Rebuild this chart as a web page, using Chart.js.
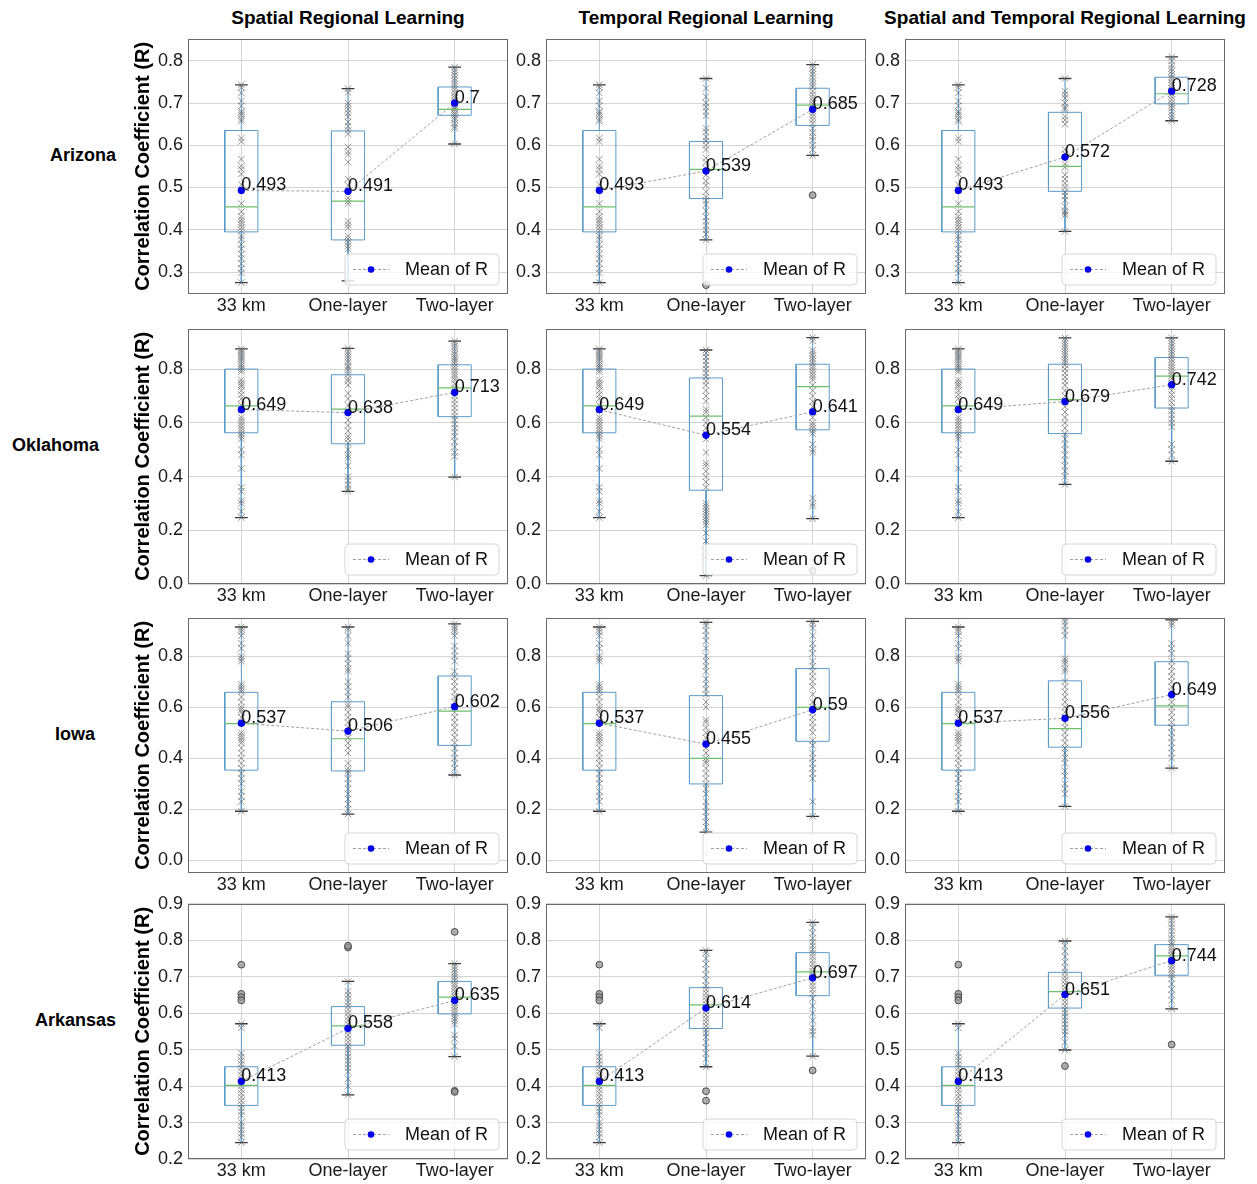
<!DOCTYPE html>
<html><head><meta charset="utf-8">
<script src="https://cdn.jsdelivr.net/npm/chart.js@4.4.1/dist/chart.umd.min.js"></script>
<style>
body{margin:0;background:#fff;width:1257px;height:1184px;position:relative;overflow:hidden;font-family:"Liberation Sans",Arial,sans-serif}
canvas{position:absolute}
.t{position:absolute;font-weight:bold;font-size:19px;color:#000;white-space:nowrap;line-height:22px}
.ct{transform:translateX(-50%)}
.rl{font-size:18px}
</style></head><body>
<script>
// ---------- categories / labels ----------
const categories = ['33 km', 'One-layer', 'Two-layer'];
const methods = ['Spatial Regional Learning', 'Temporal Regional Learning', 'Spatial and Temporal Regional Learning'];
const states = ['Arizona', 'Oklahoma', 'Iowa', 'Arkansas'];
const yTitle = 'Correlation Coefficient (R)';
const legendLabel = 'Mean of R';

// ---------- y ranges and ticks per row ----------
const azRange = [0.248, 0.852], azTicks = [0.3, 0.4, 0.5, 0.6, 0.7, 0.8];
const okRange = [0.0, 0.95], okTicks = [0.0, 0.2, 0.4, 0.6, 0.8];
const iaRange = [-0.05, 0.95], iaTicks = [0.0, 0.2, 0.4, 0.6, 0.8];
const arRange = [0.2, 0.9], arTicks = [0.2, 0.3, 0.4, 0.5, 0.6, 0.7, 0.8, 0.9];

// ---------- Arizona ----------
// box stats: [lower whisker, Q1, median, Q3, upper whisker]
const az33 = [0.743,0.737,0.724,0.705,0.693,0.680,0.676,0.671,0.662,0.657,0.617,0.609,0.567,0.551,0.543,0.532,0.507,0.462,0.443,0.431,0.424,0.418,0.412,0.405,0.398,0.385,0.378,0.365,0.355,0.342,0.332,0.320,0.308,0.298,0.275];
const az33Box = [0.275,0.395,0.454,0.635,0.743];
const azS1 = [0.734,0.725,0.700,0.693,0.685,0.676,0.668,0.655,0.645,0.635,0.627,0.596,0.585,0.578,0.560,0.520,0.505,0.475,0.468,0.462,0.420,0.412,0.405,0.385,0.378,0.370,0.362,0.355,0.279];
const azS1Box = [0.279,0.376,0.468,0.634,0.734];
const azS2 = [0.785,0.778,0.772,0.765,0.758,0.752,0.745,0.738,0.732,0.725,0.718,0.712,0.705,0.698,0.692,0.688,0.685,0.680,0.675,0.671,0.665,0.660,0.652,0.645,0.640,0.603];
const azS2Box = [0.603,0.671,0.685,0.738,0.785];
const azT1 = [0.758,0.735,0.715,0.700,0.690,0.680,0.670,0.640,0.632,0.620,0.610,0.600,0.590,0.570,0.560,0.545,0.530,0.515,0.505,0.490,0.478,0.470,0.460,0.445,0.430,0.420,0.410,0.400,0.390,0.376];
const azT1Box = [0.376,0.474,0.543,0.609,0.758];
const azT1Out = [0.269];
const azT2 = [0.791,0.782,0.775,0.768,0.760,0.752,0.745,0.738,0.728,0.720,0.712,0.705,0.698,0.690,0.682,0.675,0.668,0.660,0.652,0.640,0.630,0.620,0.612,0.600,0.590,0.576];
const azT2Box = [0.576,0.647,0.695,0.735,0.791];
const azT2Out = [0.482];
const azST1 = [0.758,0.728,0.720,0.712,0.700,0.690,0.685,0.668,0.660,0.650,0.590,0.580,0.555,0.548,0.530,0.520,0.510,0.500,0.490,0.480,0.470,0.455,0.445,0.440,0.435,0.396];
const azST1Box = [0.396,0.491,0.550,0.678,0.758];
const azST2 = [0.809,0.800,0.790,0.782,0.775,0.768,0.761,0.755,0.748,0.742,0.735,0.728,0.722,0.715,0.708,0.700,0.695,0.688,0.680,0.672,0.665,0.658];
const azST2Box = [0.658,0.698,0.722,0.761,0.809];
const azMeans = [[0.493,0.491,0.7],[0.493,0.539,0.685],[0.493,0.572,0.728]];

// ---------- Oklahoma ----------
const ok33 = [0.875,0.868,0.860,0.852,0.845,0.838,0.830,0.820,0.812,0.805,0.798,0.790,0.760,0.750,0.742,0.735,0.720,0.705,0.690,0.665,0.650,0.620,0.610,0.600,0.590,0.580,0.570,0.560,0.550,0.540,0.500,0.480,0.430,0.360,0.345,0.310,0.300,0.270,0.247];
const ok33Box = [0.247,0.563,0.663,0.800,0.875];
const okS1 = [0.877,0.865,0.855,0.845,0.835,0.825,0.812,0.805,0.795,0.780,0.765,0.755,0.740,0.710,0.690,0.665,0.640,0.610,0.590,0.570,0.550,0.540,0.525,0.500,0.480,0.470,0.440,0.400,0.385,0.370,0.355,0.345];
const okS1Box = [0.345,0.522,0.651,0.779,0.877];
const okS2 = [0.904,0.895,0.885,0.875,0.865,0.855,0.845,0.838,0.830,0.820,0.810,0.800,0.790,0.780,0.770,0.760,0.745,0.730,0.715,0.700,0.685,0.670,0.655,0.640,0.625,0.610,0.595,0.580,0.565,0.550,0.530,0.510,0.490,0.475,0.398];
const okS2Box = [0.398,0.623,0.730,0.816,0.904];
const okT1 = [0.871,0.860,0.845,0.830,0.815,0.800,0.785,0.770,0.755,0.740,0.720,0.700,0.680,0.650,0.640,0.620,0.600,0.580,0.560,0.540,0.490,0.450,0.440,0.420,0.400,0.380,0.360,0.300,0.290,0.280,0.270,0.260,0.250,0.240,0.230,0.220,0.190,0.160,0.120,0.100,0.031];
const okT1Box = [0.031,0.349,0.625,0.767,0.871];
const okT2 = [0.917,0.905,0.870,0.860,0.850,0.840,0.830,0.820,0.810,0.800,0.790,0.780,0.770,0.760,0.740,0.720,0.700,0.680,0.660,0.640,0.620,0.600,0.590,0.580,0.570,0.560,0.520,0.500,0.490,0.320,0.300,0.290,0.243];
const okT2Box = [0.243,0.574,0.735,0.818,0.917];
const okT2Out = [0.049];
const okST1 = [0.916,0.905,0.895,0.885,0.875,0.865,0.855,0.845,0.835,0.825,0.815,0.800,0.785,0.770,0.755,0.740,0.720,0.700,0.680,0.660,0.640,0.620,0.600,0.580,0.560,0.540,0.520,0.500,0.480,0.460,0.440,0.420,0.400,0.371];
const okST1Box = [0.371,0.560,0.686,0.818,0.916];
const okST2 = [0.916,0.905,0.895,0.885,0.875,0.865,0.855,0.845,0.835,0.825,0.815,0.805,0.795,0.785,0.775,0.765,0.750,0.735,0.720,0.705,0.690,0.675,0.660,0.645,0.630,0.615,0.600,0.585,0.520,0.500,0.480,0.457];
const okST2Box = [0.457,0.655,0.774,0.843,0.916];
const okMeans = [[0.649,0.638,0.713],[0.649,0.554,0.641],[0.649,0.679,0.742]];

// ---------- Iowa ----------
const ia33 = [0.914,0.905,0.895,0.880,0.850,0.830,0.800,0.790,0.780,0.690,0.680,0.670,0.660,0.640,0.620,0.600,0.590,0.580,0.560,0.540,0.500,0.490,0.480,0.470,0.460,0.440,0.420,0.400,0.380,0.360,0.340,0.320,0.300,0.270,0.250,0.230,0.192];
const ia33Box = [0.192,0.353,0.535,0.658,0.914];
const iaS1 = [0.914,0.905,0.880,0.850,0.810,0.790,0.770,0.750,0.740,0.700,0.680,0.660,0.640,0.610,0.600,0.580,0.560,0.540,0.520,0.500,0.480,0.460,0.440,0.420,0.380,0.360,0.350,0.340,0.320,0.300,0.280,0.260,0.240,0.220,0.200,0.181];
const iaS1Box = [0.181,0.350,0.476,0.621,0.914];
const iaS2 = [0.926,0.915,0.905,0.895,0.880,0.840,0.820,0.800,0.780,0.740,0.720,0.700,0.680,0.660,0.640,0.620,0.600,0.580,0.560,0.540,0.520,0.500,0.480,0.460,0.440,0.420,0.400,0.380,0.360,0.334];
const iaS2Box = [0.334,0.450,0.584,0.722,0.926];
const iaT1 = [0.932,0.920,0.900,0.880,0.860,0.830,0.800,0.780,0.760,0.740,0.710,0.690,0.670,0.650,0.620,0.600,0.550,0.540,0.520,0.500,0.480,0.460,0.440,0.420,0.400,0.390,0.380,0.360,0.340,0.320,0.300,0.280,0.260,0.230,0.210,0.190,0.170,0.150,0.130,0.110];
const iaT1Box = [0.110,0.299,0.399,0.645,0.932];
const iaT2 = [0.936,0.925,0.910,0.880,0.850,0.830,0.810,0.780,0.760,0.740,0.720,0.700,0.680,0.650,0.620,0.600,0.580,0.560,0.540,0.520,0.500,0.470,0.450,0.420,0.400,0.380,0.360,0.340,0.320,0.230,0.172];
const iaT2Box = [0.172,0.466,0.599,0.751,0.936];
const iaST1 = [0.948,0.935,0.920,0.900,0.880,0.790,0.780,0.770,0.750,0.740,0.700,0.680,0.660,0.640,0.620,0.600,0.580,0.560,0.540,0.520,0.500,0.480,0.460,0.440,0.420,0.400,0.380,0.350,0.330,0.300,0.280,0.260,0.211];
const iaST1Box = [0.211,0.443,0.516,0.703,0.948];
const iaST2 = [0.942,0.930,0.920,0.850,0.830,0.810,0.780,0.760,0.740,0.720,0.700,0.680,0.660,0.640,0.620,0.600,0.580,0.560,0.540,0.520,0.500,0.480,0.460,0.440,0.420,0.400,0.361];
const iaST2Box = [0.361,0.529,0.605,0.778,0.942];
const iaMeans = [[0.537,0.506,0.602],[0.537,0.455,0.59],[0.537,0.556,0.649]];

// ---------- Arkansas ----------
const ar33 = [0.571,0.560,0.490,0.480,0.470,0.460,0.450,0.440,0.430,0.420,0.410,0.400,0.390,0.380,0.370,0.360,0.350,0.340,0.330,0.320,0.300,0.290,0.280,0.270,0.260,0.245];
const ar33Box = [0.245,0.347,0.402,0.453,0.571];
const ar33Out = [0.733,0.653,0.644,0.635];
const arS1 = [0.687,0.660,0.650,0.640,0.630,0.620,0.610,0.600,0.590,0.580,0.570,0.560,0.550,0.540,0.530,0.520,0.510,0.500,0.490,0.480,0.470,0.460,0.450,0.440,0.420,0.400,0.376];
const arS1Box = [0.376,0.512,0.565,0.618,0.687];
const arS1Out = [0.780,0.785];
const arS2 = [0.736,0.728,0.720,0.712,0.705,0.698,0.690,0.682,0.675,0.668,0.660,0.652,0.645,0.638,0.630,0.622,0.615,0.608,0.600,0.592,0.585,0.578,0.570,0.540,0.530,0.510,0.481];
const arS2Box = [0.481,0.598,0.644,0.687,0.736];
const arS2Out = [0.823,0.387,0.384];
const arT1 = [0.772,0.765,0.750,0.735,0.720,0.705,0.690,0.675,0.665,0.655,0.645,0.635,0.625,0.615,0.605,0.595,0.585,0.575,0.565,0.555,0.545,0.535,0.520,0.505,0.490,0.475,0.453];
const arT1Box = [0.453,0.558,0.623,0.670,0.772];
const arT1Out = [0.386,0.360];
const arT2 = [0.849,0.835,0.820,0.805,0.795,0.785,0.775,0.765,0.755,0.745,0.735,0.725,0.715,0.705,0.695,0.685,0.675,0.665,0.655,0.640,0.620,0.600,0.580,0.560,0.550,0.540,0.482];
const arT2Box = [0.482,0.648,0.713,0.766,0.849];
const arT2Out = [0.443];
const arST1 = [0.798,0.785,0.770,0.755,0.740,0.725,0.712,0.700,0.690,0.680,0.670,0.660,0.650,0.640,0.630,0.620,0.610,0.600,0.590,0.580,0.570,0.560,0.550,0.540,0.520,0.499];
const arST1Box = [0.499,0.614,0.659,0.712,0.798];
const arST1Out = [0.455];
const arST2 = [0.864,0.855,0.845,0.835,0.825,0.815,0.805,0.795,0.788,0.780,0.772,0.765,0.758,0.750,0.742,0.735,0.728,0.720,0.712,0.705,0.695,0.680,0.665,0.650,0.635,0.612];
const arST2Box = [0.612,0.704,0.757,0.788,0.864];
const arST2Out = [0.514];
const arMeans = [[0.413,0.558,0.635],[0.413,0.614,0.697],[0.413,0.651,0.744]];

// ---------- table built from arrays ----------
const none = [];
const rows = [
  {range: azRange, ticks: azTicks, panels: [
    {b:[az33Box,azS1Box,azS2Box], p:[az33,azS1,azS2], o:[none,none,none], m:azMeans[0]},
    {b:[az33Box,azT1Box,azT2Box], p:[az33,azT1,azT2], o:[none,azT1Out,azT2Out], m:azMeans[1]},
    {b:[az33Box,azST1Box,azST2Box], p:[az33,azST1,azST2], o:[none,none,none], m:azMeans[2]}]},
  {range: okRange, ticks: okTicks, panels: [
    {b:[ok33Box,okS1Box,okS2Box], p:[ok33,okS1,okS2], o:[none,none,none], m:okMeans[0]},
    {b:[ok33Box,okT1Box,okT2Box], p:[ok33,okT1,okT2], o:[none,none,okT2Out], m:okMeans[1]},
    {b:[ok33Box,okST1Box,okST2Box], p:[ok33,okST1,okST2], o:[none,none,none], m:okMeans[2]}]},
  {range: iaRange, ticks: iaTicks, panels: [
    {b:[ia33Box,iaS1Box,iaS2Box], p:[ia33,iaS1,iaS2], o:[none,none,none], m:iaMeans[0]},
    {b:[ia33Box,iaT1Box,iaT2Box], p:[ia33,iaT1,iaT2], o:[none,none,none], m:iaMeans[1]},
    {b:[ia33Box,iaST1Box,iaST2Box], p:[ia33,iaST1,iaST2], o:[none,none,none], m:iaMeans[2]}]},
  {range: arRange, ticks: arTicks, panels: [
    {b:[ar33Box,arS1Box,arS2Box], p:[ar33,arS1,arS2], o:[ar33Out,arS1Out,arS2Out], m:arMeans[0]},
    {b:[ar33Box,arT1Box,arT2Box], p:[ar33,arT1,arT2], o:[ar33Out,arT1Out,arT2Out], m:arMeans[1]},
    {b:[ar33Box,arST1Box,arST2Box], p:[ar33,arST1,arST2], o:[ar33Out,arST1Out,arST2Out], m:arMeans[2]}]}
];

// ---------- layout ----------
const PL = [188, 546, 905], PT = [35, 325, 614, 900], PW = 320, PH = 259;
const AXW = 75, PADT = 12, PADR = 12, AXH = 30;
const FONT = '"Liberation Sans", Arial, sans-serif';
const BOXC = '#5b9bc8', MEDC = '#6cc06c', CAPC = '#3a3a3a';

// titles and row labels (HTML text)
methods.forEach((m, c) => {
  const d = document.createElement('div'); d.className = 't ct'; d.textContent = m;
  d.style.left = (PL[c] + PW / 2) + 'px'; d.style.top = '7px'; document.body.appendChild(d);
});
const rowLabelLeft = [50, 12, 55, 35];
states.forEach((s, r) => {
  const d = document.createElement('div'); d.className = 't rl'; d.textContent = s;
  d.style.left = rowLabelLeft[r] + 'px'; d.style.top = (PT[r] + PH / 2 - 21) + 'px'; document.body.appendChild(d);
});

const annot = {
  id: 'annot',
  afterDraw(chart) {
    const ctx = chart.ctx, a = chart.chartArea, xs = chart.scales.x, ys = chart.scales.y;
    const o = chart.options.plugins.annot;
    ctx.save();
    // mean labels
    ctx.font = '18px ' + FONT; ctx.fillStyle = '#111'; ctx.textAlign = 'left'; ctx.textBaseline = 'alphabetic';
    o.means.forEach((v, i) => ctx.fillText(String(v), xs.getPixelForValue(i + 1), ys.getPixelForValue(v)));
    // legend
    const lw = 154, lh = 31, lx = a.right - 9 - lw, ly = a.bottom - 9 - lh;
    ctx.beginPath(); ctx.roundRect(lx, ly, lw, lh, 4);
    ctx.fillStyle = 'rgba(255,255,255,0.8)'; ctx.fill();
    ctx.strokeStyle = '#d6d6d6'; ctx.lineWidth = 1; ctx.stroke();
    const cy = ly + lh / 2;
    ctx.beginPath(); ctx.setLineDash([3, 2]); ctx.strokeStyle = '#a0a0a0';
    ctx.moveTo(lx + 8, cy); ctx.lineTo(lx + 44, cy); ctx.stroke(); ctx.setLineDash([]);
    ctx.beginPath(); ctx.arc(lx + 26, cy, 3.3, 0, Math.PI * 2); ctx.fillStyle = '#0000ee'; ctx.fill();
    ctx.fillStyle = '#111'; ctx.textBaseline = 'middle'; ctx.font = '18px ' + FONT;
    ctx.fillText(legendLabel, lx + 60, cy + 1);
    // frame
    ctx.strokeStyle = '#6a6a6a'; ctx.lineWidth = 1;
    ctx.strokeRect(Math.round(a.left) + 0.5, Math.round(a.top) + 0.5, Math.round(a.width) - 1, Math.round(a.height) - 1);
    // y title
    if (o.yTitle) {
      ctx.translate(a.left - 45, (a.top + a.bottom) / 2); ctx.rotate(-Math.PI / 2);
      ctx.font = 'bold 20px ' + FONT; ctx.fillStyle = '#000'; ctx.textAlign = 'center'; ctx.textBaseline = 'middle';
      ctx.fillText(yTitle, 0, 0);
    }
    ctx.restore();
  }
};

function build(r, c) {
  const row = rows[r], pan = row.panels[c];
  const W = AXW + PW + PADR, H = PADT + PH + AXH;
  const cv = document.createElement('canvas');
  cv.width = W; cv.height = H; cv.style.width = W + 'px'; cv.style.height = H + 'px';
  cv.style.left = (PL[c] - AXW) + 'px'; cv.style.top = (PT[r] - PADT) + 'px';
  document.body.appendChild(cv);
  const BW = 0.155, CW = 0.06;
  const boxPts = [], whisk = [], caps = [], meds = [], scat = [], outl = [];
  pan.b.forEach((b, i) => {
    const x = i + 1; const [lo, q1, md, q3, hi] = b;
    boxPts.push({x: x - BW, y: q1}, {x: x + BW, y: q1}, {x: x + BW, y: q3}, {x: x - BW, y: q3}, {x: x - BW, y: q1}, {x: x, y: null});
    whisk.push({x: x, y: q3}, {x: x, y: hi}, {x: x, y: null}, {x: x, y: q1}, {x: x, y: lo}, {x: x, y: null});
    caps.push({x: x - CW, y: hi}, {x: x + CW, y: hi}, {x: x, y: null}, {x: x - CW, y: lo}, {x: x + CW, y: lo}, {x: x, y: null});
    meds.push({x: x - BW, y: md}, {x: x + BW, y: md}, {x: x, y: null});
  });
  pan.p.forEach((arr, i) => arr.forEach(v => scat.push({x: i + 1, y: v})));
  pan.o.forEach((arr, i) => arr.forEach(v => outl.push({x: i + 1, y: v})));
  const meanPts = pan.m.map((v, i) => ({x: i + 1, y: v}));
  const seg = (data, color, width, order) => ({data, showLine: true, spanGaps: false, borderColor: color, borderWidth: width, pointRadius: 0, order});
  new Chart(cv, {
    type: 'scatter',
    data: {datasets: [
      seg(boxPts, BOXC, 1, 6),
      seg(whisk, BOXC, 1, 5),
      seg(caps, CAPC, 1.3, 4),
      {data: scat, pointStyle: 'crossRot', pointRadius: 4.6, borderColor: 'rgba(105,105,105,0.7)', borderWidth: 1, showLine: false, order: 3},
      seg(meds, MEDC, 1.2, 2),
      {data: outl, pointStyle: 'circle', pointRadius: 3.4, backgroundColor: 'rgba(150,150,150,0.75)', borderColor: '#4a4a4a', borderWidth: 1, showLine: false, order: 1},
      {data: meanPts, showLine: true, borderColor: '#a0a0a0', borderWidth: 1, borderDash: [3, 2], pointRadius: 3.3, pointBackgroundColor: '#0000ee', pointBorderColor: '#0000ee', order: 0}
    ]},
    options: {
      responsive: false, animation: false, events: [],
      layout: {padding: {top: PADT, right: PADR, left: 0, bottom: 0}},
      scales: {
        x: {type: 'linear', min: 0.5, max: 3.5,
          afterBuildTicks: s => { s.ticks = [1, 2, 3].map(v => ({value: v})); },
          afterFit: s => { s.height = AXH; },
          ticks: {callback: v => categories[v - 1], font: {family: FONT, size: 18}, color: '#1a1a1a', padding: 1, maxRotation: 0, autoSkip: false},
          grid: {color: '#d4d4d4', lineWidth: 1, drawTicks: false}, border: {display: false}},
        y: {type: 'linear', min: row.range[0], max: row.range[1],
          afterBuildTicks: s => { s.ticks = row.ticks.map(v => ({value: v})); },
          afterFit: s => { s.width = AXW; },
          ticks: {callback: v => v.toFixed(1), font: {family: FONT, size: 18}, color: '#1a1a1a', padding: 5, autoSkip: false},
          grid: {color: '#d4d4d4', lineWidth: 1, drawTicks: false}, border: {display: false}}
      },
      plugins: {legend: {display: false}, tooltip: {enabled: false},
        annot: {means: pan.m, yTitle: c === 0}}
    },
    plugins: [annot]
  });
}
for (let r = 0; r < 4; r++) for (let c = 0; c < 3; c++) build(r, c);
</script>
</body></html>
